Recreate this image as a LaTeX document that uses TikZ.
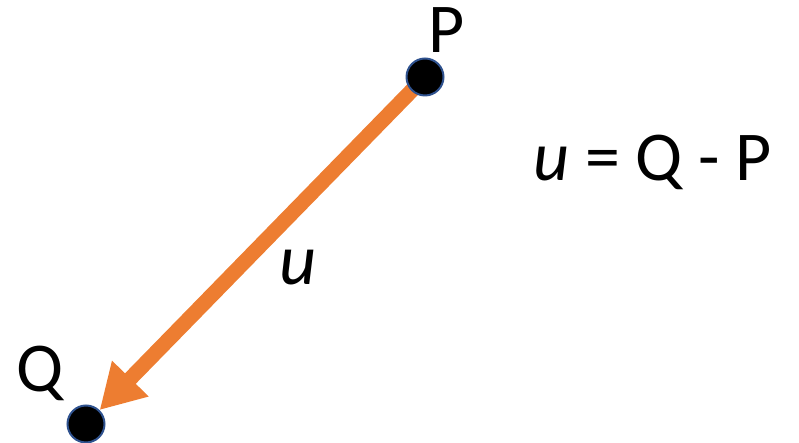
\documentclass[tikz,border=0pt]{standalone}
\usepackage{fontspec}
\setmainfont{Carlito}
\usetikzlibrary{arrows.meta,backgrounds}
\definecolor{vecorange}{HTML}{ED7D31}
\definecolor{dotrim}{HTML}{2F528F}
\begin{document}
\begin{tikzpicture}[x=1pt,y=1pt,every node/.style={font=\fontsize{70}{70}\selectfont},
  dot/.style={circle,fill=black,draw=dotrim,line width=2pt,minimum size=37pt,inner sep=0pt}]
  \useasboundingbox (0,0) rectangle (799,443);
  % the two points and the vector between them
  \node[dot] (P) at (425,366) {};
  \node[dot] (Q) at (86,19) {};
  \begin{scope}[on background layer]
    \draw[vecorange,line width=15pt,-{Triangle[length=44pt,width=48pt]}] (P.center) -- (Q);
  \end{scope}

  \node[anchor=base] (lP) at (447,390) {P};
  \node[anchor=base] (lQ) at (40,51) {Q};
  \node[anchor=base,font=\fontsize{72}{72}\selectfont] (lu) at (298,158) {\textit{u}};
  \node[anchor=base west,inner sep=0pt] (eq) at (533,262) {\textit{u} = Q - P};
\end{tikzpicture}
\end{document}
